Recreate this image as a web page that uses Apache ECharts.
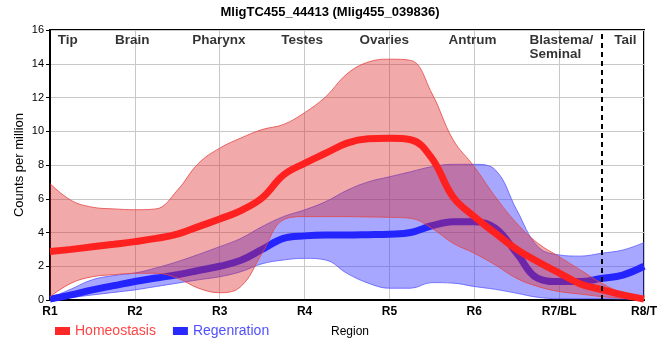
<!DOCTYPE html>
<html><head><meta charset="utf-8">
<script src="https://cdn.jsdelivr.net/npm/echarts@6/dist/echarts.min.js"></script>
<style>html,body{margin:0;padding:0;background:#fff}#c{width:660px;height:360px}</style>
</head><body><div id="c"></div>
<script>
const xLabels = ['R1','R2','R3','R4','R5','R6','R7/BL','R8/T'];
const regionNames = ['Tip','Brain','Pharynx','Testes','Ovaries','Antrum','Blastema/\nSeminal','Tail'];
const regionX = [1.21, 1.97, 2.99, 3.97, 4.94, 5.98, 6.65, 7.78];
const boundaryX = 7.5;
const xs = [1,1.25,1.5,1.75,2,2.25,2.5,2.75,3,3.25,3.5,3.75,4,4.25,4.5,4.75,5,5.25,5.5,5.75,6,6.25,6.5,6.75,7,7.25,7.5,7.75,8];
const homMean  = [2.87,3.0,3.15,3.3,3.46,3.65,3.9,4.35,4.8,5.3,6.05,7.4,8.1,8.7,9.3,9.55,9.58,9.5,8.4,6.1,4.94,3.95,3.0,2.27,1.6,0.95,0.62,0.3,0.05];
const homUpper = [6.9,5.9,5.5,5.4,5.35,5.4,6.5,8.1,9.0,9.6,10.1,10.4,11.1,12.05,13.4,14.1,14.27,14.2,12.25,9.5,7.9,6.1,4.55,3.36,2.57,1.78,1.0,0.4,0.04];
const homLower = [0.2,1.0,1.38,1.5,1.58,1.58,1.3,0.7,0.43,0.8,2.77,4.75,4.94,4.94,4.94,4.92,4.9,4.84,4.25,3.36,2.77,2.07,1.28,0.8,0.5,0.35,0.2,0.1,0.04];
const regMean  = [0.05,0.3,0.6,0.85,1.1,1.3,1.5,1.75,2.0,2.35,3.0,3.65,3.8,3.85,3.85,3.87,3.9,4.0,4.4,4.64,4.64,4.25,2.77,1.28,1.09,1.09,1.28,1.48,2.0];
const regUpper = [0.1,0.65,1.2,1.45,1.6,1.9,2.27,2.7,3.16,3.65,4.35,4.94,5.34,5.83,6.5,7.0,7.3,7.6,7.9,8.04,8.04,7.7,5.34,3.16,2.67,2.6,2.77,2.96,3.4];
const regLower = [0,0.15,0.3,0.45,0.6,0.8,1.0,1.2,1.38,1.68,2.15,2.37,2.47,2.37,1.58,1.0,0.7,0.7,1.03,1.0,0.8,0.63,0.4,0.16,0.08,0.08,0.08,0.06,0.04];

const FONT = 'Liberation Sans, Arial, sans-serif';
const diffs = (up, lo) => up.map((u,i)=>+(u - lo[i]).toFixed(4));
const isMajor = i => Number.isInteger(xs[i]);

const chart = echarts.init(document.getElementById('c'), null, {renderer:'canvas'});
chart.setOption({
  animation: false,
  textStyle: {fontFamily: FONT},
  title: {text: 'MligTC455_44413 (Mlig455_039836)', left: 'center', top: 1,
    textStyle: {fontSize: 13, fontWeight: 'bold', color: '#000', fontFamily: FONT}},
  grid: {left: 50, right: 10, top: 30, bottom: 60, show: true, borderColor: '#000', borderWidth: 2, backgroundColor: 'transparent'},
  legend: {
    left: 55, top: 324, padding: 0, icon: 'rect', itemWidth: 15, itemHeight: 8, itemGap: 17,
    textStyle: {fontSize: 14, fontFamily: FONT},
    data: [
      {name: 'Homeostasis', textStyle: {color: '#ff4444'}},
      {name: 'Regenration', textStyle: {color: '#5050ff'}}
    ]
  },
  xAxis: [{
    type: 'category', data: xs.map(String), boundaryGap: false,
    name: 'Region', nameLocation: 'middle', nameGap: 26, nameMoveOverlap: false,
    nameTextStyle: {fontSize: 12, color: '#000', fontFamily: FONT, padding: [0,0,0,6]},
    axisLine: {lineStyle: {color: '#000', width: 2}},
    axisTick: {show: false},
    axisLabel: {interval: (i) => isMajor(i), formatter: (v) => xLabels[Math.round(+v)-1] || '',
      fontSize: 12, fontWeight: 'bold', color: '#000', margin: 6, fontFamily: FONT},
    splitLine: {show: true, interval: (i) => isMajor(i), lineStyle: {color: '#c8c8c8', width: 1}}
  }, {
    type: 'value', min: 1, max: 8, show: false, position: 'bottom'
  }],
  yAxis: {
    type: 'value', min: 0, max: 16, interval: 2,
    name: 'Counts per million', nameLocation: 'middle', nameGap: 24, nameRotate: 90, nameMoveOverlap: false,
    nameTextStyle: {fontSize: 13, color: '#000', fontFamily: FONT},
    axisLine: {show: true, lineStyle: {color: '#000', width: 2}},
    axisTick: {show: true, length: 4, lineStyle: {color: '#000'}},
    axisLabel: {fontSize: 11, color: '#000', margin: 6, fontFamily: FONT},
    splitLine: {show: true, lineStyle: {color: '#c8c8c8', width: 1}}
  },
  series: [
    {name: 'regLower', type: 'line', stack: 'reg', data: regLower, smooth: 0.4, symbol: 'none',
      lineStyle: {width: 1, color: 'rgba(90,90,255,0.8)'}, z: 1},
    {name: 'regBand', type: 'line', stack: 'reg', data: diffs(regUpper, regLower), smooth: 0.4, symbol: 'none',
      lineStyle: {width: 1, color: 'rgba(90,90,255,0.8)'}, areaStyle: {color: 'rgba(60,60,255,0.45)', opacity: 1}, z: 1},
    {name: 'Regenration', type: 'line', data: regMean, smooth: 0.4, symbol: 'none',
      color: '#2828ff', lineStyle: {width: 7, color: '#2424ff'}, z: 2},
    {name: 'homLower', type: 'line', stack: 'hom', data: homLower, smooth: 0.4, symbol: 'none',
      lineStyle: {width: 1, color: 'rgba(230,70,70,0.8)'}, z: 3},
    {name: 'homBand', type: 'line', stack: 'hom', data: diffs(homUpper, homLower), smooth: 0.4, symbol: 'none',
      lineStyle: {width: 1, color: 'rgba(230,70,70,0.8)'}, areaStyle: {color: 'rgba(220,40,40,0.4)', opacity: 1}, z: 3},
    {name: 'Homeostasis', type: 'line', data: homMean, smooth: 0.4, symbol: 'none',
      color: '#ff2828', lineStyle: {width: 7, color: '#ff2020'}, z: 4},
    {name: 'regions', type: 'scatter', xAxisIndex: 1, symbolSize: 0, z: 5, silent: true,
      data: regionNames.map((n,i)=>({value: [regionX[i], 15.85, n], label: {align: n.indexOf('\n')>=0 ? 'left' : 'center'}})),
      label: {show: true, formatter: p => p.data.value[2], position: [0,0], verticalAlign: 'top', align: 'center',
        fontSize: 13.5, fontWeight: 'bold', color: '#000', lineHeight: 14.5, fontFamily: FONT},
      markLine: {silent: true, symbol: 'none', label: {show: false},
        lineStyle: {color: '#000', type: [5,4], width: 2},
        data: [{xAxis: boundaryX}]}
    }
  ]
});
</script></body></html>
